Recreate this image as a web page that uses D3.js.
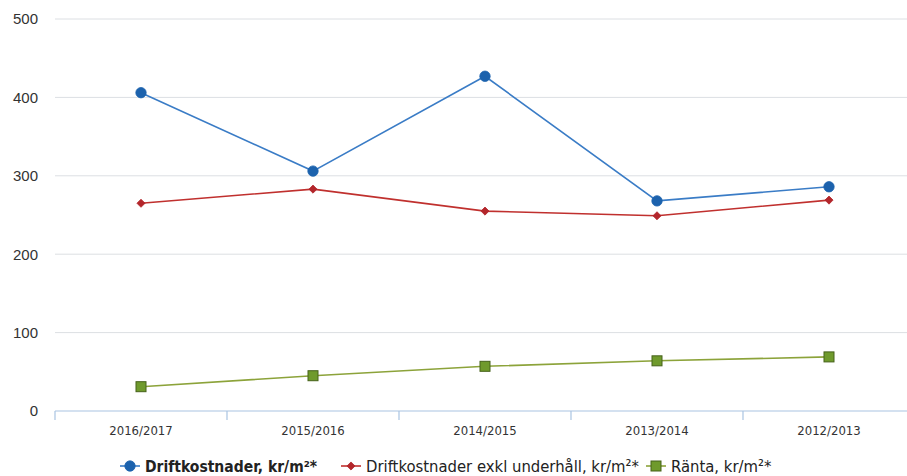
<!DOCTYPE html>
<html>
<head>
<meta charset="utf-8">
<script src="https://cdn.jsdelivr.net/npm/d3@7"></script>
<style>
  html, body { margin: 0; padding: 0; background: #fff; }
  svg { display: block; }
  text { font-family: "DejaVu Sans Condensed", "Liberation Sans", Arial, sans-serif; }
</style>
</head>
<body>
<svg id="chart" width="907" height="476"></svg>
<script>
// Years (reporting periods), newest first
const categories = ["2016/2017", "2015/2016", "2014/2015", "2013/2014", "2012/2013"];

// Series values, kr/m²
const driftkostnader = [406, 306, 427, 268, 286];
const driftExklUnderhall = [265, 283, 255, 249, 269];
const ranta = [31, 45, 57, 64, 69];

const yTicks = [0, 100, 200, 300, 400, 500];

const seriesNames = [
  "Driftkostnader, kr/m²*",
  "Driftkostnader exkl underhåll, kr/m²*",
  "Ränta, kr/m²*"
];

const series = [
  { name: seriesNames[0], values: driftkostnader, line: "#3a7cc6", fill: "#1c62ad", stroke: "#1c62ad", shape: "circle" },
  { name: seriesNames[1], values: driftExklUnderhall, line: "#c0302e", fill: "#b3262b", stroke: "#b3262b", shape: "diamond" },
  { name: seriesNames[2], values: ranta, line: "#8ca33a", fill: "#6f9a2c", stroke: "#46621a", shape: "square" }
];

const svg = d3.select("#chart");
const W = 907, H = 476;
const m = { left: 55, right: -8, top: 19, bottom: 65 };

const x = d3.scaleBand().domain(categories).range([m.left, W - m.right]).paddingInner(0).paddingOuter(0);
const y = d3.scaleLinear().domain([0, 500]).range([H - m.bottom, m.top]);

// Horizontal gridlines
svg.append("g")
  .selectAll("line")
  .data(yTicks.filter(d => d > 0))
  .join("line")
  .attr("x1", m.left).attr("x2", W)
  .attr("y1", d => y(d)).attr("y2", d => y(d))
  .attr("stroke", "#dcdfe3").attr("stroke-width", 1);

// Y axis labels
const yAxis = d3.axisLeft(y).tickValues(yTicks).tickSize(0).tickPadding(0);
const gy = svg.append("g").attr("transform", `translate(38,0)`).call(yAxis);
gy.select(".domain").remove();
gy.selectAll("text")
  .attr("font-size", 15)
  .attr("fill", "#333")
  .style("font-family", "'Liberation Sans', Arial, sans-serif");

// X axis with tick marks on band boundaries
const gx = svg.append("g").attr("transform", `translate(0,${y(0)})`);
gx.append("line")
  .attr("x1", m.left).attr("x2", W)
  .attr("stroke", "#a9c4e2").attr("stroke-width", 1.2);
const boundaries = categories.map(c => x(c)).concat([x(categories[categories.length - 1]) + x.bandwidth()]);
gx.selectAll("line.tick")
  .data(boundaries)
  .join("line")
  .attr("class", "tick")
  .attr("x1", d => d).attr("x2", d => d)
  .attr("y1", 0).attr("y2", 9)
  .attr("stroke", "#a9c4e2").attr("stroke-width", 1.2);
gx.selectAll("text")
  .data(categories)
  .join("text")
  .attr("x", d => x(d) + x.bandwidth() / 2)
  .attr("y", 24)
  .attr("text-anchor", "middle")
  .attr("font-size", 13)
  .attr("fill", "#333")
  .text(d => d);

const cx = c => x(c) + x.bandwidth() / 2;

const line = d3.line()
  .x((d, i) => cx(categories[i]))
  .y(d => y(d));

function drawMarker(g, shape, px, py, s) {
  if (shape === "circle") {
    g.append("circle").attr("cx", px).attr("cy", py).attr("r", 5.2)
      .attr("fill", s.fill).attr("stroke", s.stroke).attr("stroke-width", 0.8);
  } else if (shape === "diamond") {
    g.append("path")
      .attr("d", d3.symbol().type(d3.symbolDiamond2).size(42)())
      .attr("transform", `translate(${px},${py})`)
      .attr("fill", s.fill).attr("stroke", s.stroke).attr("stroke-width", 0.8);
  } else {
    g.append("rect").attr("x", px - 5).attr("y", py - 5).attr("width", 10).attr("height", 10)
      .attr("fill", s.fill).attr("stroke", s.stroke).attr("stroke-width", 1);
  }
}

// Lines and markers
series.forEach(s => {
  const g = svg.append("g");
  g.append("path")
    .datum(s.values)
    .attr("d", line)
    .attr("fill", "none")
    .attr("stroke", s.line)
    .attr("stroke-width", 1.6);
  s.values.forEach((v, i) => drawMarker(g, s.shape, cx(categories[i]), y(v), s));
});

// Legend
const legendItems = [
  { x: 120, size: 15.5, bold: true },
  { x: 341, size: 16.5, bold: false },
  { x: 646, size: 16.5, bold: false }
];
const ly = 466;
series.forEach((s, i) => {
  const g = svg.append("g").attr("transform", `translate(${legendItems[i].x},${ly})`);
  g.append("line").attr("x1", 0).attr("x2", 20).attr("y1", 0).attr("y2", 0)
    .attr("stroke", s.line).attr("stroke-width", 1.6);
  drawMarker(g, s.shape, 10, 0, s);
  g.append("text")
    .attr("x", 25).attr("y", 5.5)
    .attr("font-size", legendItems[i].size)
    .attr("font-weight", legendItems[i].bold ? "bold" : "normal")
    .attr("fill", "#222")
    .text(s.name);
});
</script>
</body>
</html>
